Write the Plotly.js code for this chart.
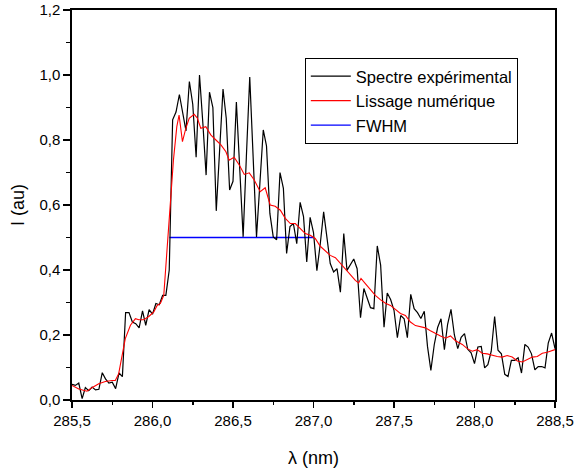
<!DOCTYPE html>
<html>
<head>
<meta charset="utf-8">
<script src="https://cdn.plot.ly/plotly-3.0.1.min.js"></script>
<style>html,body{margin:0;padding:0;background:#fff;}#plot{width:576px;height:468px;}</style>
</head>
<body>
<div id="plot"></div>
<script>
// Experimental spectrum (black)
const specX = [
285.500,285.521,285.542,285.563,285.583,285.604,285.625,285.646,285.667,285.688,285.708,285.729,285.750,285.771,285.792,285.813,285.833,285.854,285.875,285.896,285.917,285.938,285.958,285.979,
286.000,286.021,286.042,286.063,286.083,286.104,286.125,286.146,286.167,286.188,286.208,286.229,286.250,286.271,286.292,286.313,286.333,286.354,286.375,286.396,286.417,286.438,286.458,286.479,
286.500,286.521,286.542,286.563,286.583,286.604,286.625,286.646,286.667,286.688,286.708,286.729,286.750,286.771,286.792,286.813,286.833,286.854,286.875,286.896,286.917,286.938,286.958,286.979,
287.000,287.021,287.042,287.063,287.083,287.104,287.125,287.146,287.167,287.188,287.208,287.229,287.250,287.271,287.292,287.313,287.333,287.354,287.375,287.396,287.417,287.438,287.458,287.479,
287.500,287.521,287.542,287.563,287.583,287.604,287.625,287.646,287.667,287.688,287.708,287.729,287.750,287.771,287.792,287.813,287.833,287.854,287.875,287.896,287.917,287.938,287.958,287.979,
288.000,288.021,288.042,288.063,288.083,288.104,288.125,288.146,288.167,288.188,288.208,288.229,288.250,288.271,288.292,288.313,288.333,288.354,288.375,288.396,288.417,288.438,288.458,288.479,
288.500];
const specY = [
0.048,0.045,0.052,0.004,0.038,0.029,0.040,0.031,0.033,0.084,0.065,0.052,0.055,0.035,0.083,0.072,0.269,0.269,0.240,0.235,0.222,0.274,0.230,0.278,
0.264,0.297,0.293,0.322,0.322,0.400,0.862,0.886,0.940,0.885,0.828,0.980,0.910,0.747,1.000,0.850,0.692,0.947,0.900,0.582,0.770,0.957,0.867,0.646,
0.673,0.917,0.710,0.502,0.748,0.994,0.748,0.502,0.666,0.831,0.782,0.574,0.502,0.493,0.700,0.651,0.451,0.534,0.543,0.481,0.608,0.564,0.425,0.562,
0.515,0.398,0.480,0.579,0.502,0.420,0.394,0.404,0.332,0.512,0.399,0.418,0.434,0.404,0.253,0.343,0.312,0.284,0.281,0.474,0.415,0.224,0.329,0.309,
0.276,0.192,0.260,0.250,0.192,0.325,0.281,0.269,0.251,0.273,0.165,0.091,0.170,0.223,0.250,0.155,0.233,0.279,0.200,0.158,0.193,0.204,0.156,0.145,
0.112,0.163,0.165,0.099,0.109,0.150,0.257,0.153,0.142,0.079,0.072,0.122,0.122,0.130,0.083,0.171,0.163,0.142,0.093,0.103,0.103,0.099,0.175,0.206,
0.158];

// Numerical smoothing (red)
const smoothX = [
285.500,285.542,285.593,285.624,285.666,285.707,285.749,285.769,285.790,285.811,285.831,285.863,285.894,285.915,285.946,285.977,
286.008,286.029,286.049,286.070,286.089,286.109,286.130,286.151,286.165,286.186,286.207,286.228,286.259,286.279,286.300,286.331,
286.363,286.394,286.425,286.456,286.476,286.507,286.539,286.570,286.601,286.632,286.669,286.700,286.731,286.762,286.794,286.825,
286.856,286.887,286.918,286.949,286.980,287.011,287.042,287.073,287.104,287.136,287.167,287.198,287.229,287.260,287.280,287.295,
287.322,287.353,287.384,287.415,287.447,287.478,287.509,287.540,287.571,287.602,287.633,287.664,287.695,287.726,287.758,287.789,
287.820,287.851,287.882,287.924,287.955,287.986,288.017,288.048,288.079,288.110,288.141,288.172,288.203,288.234,288.266,288.297,
288.328,288.359,288.390,288.421,288.452,288.483,288.500];
const smoothY = [
0.045,0.034,0.027,0.038,0.050,0.057,0.060,0.060,0.081,0.132,0.189,0.230,0.250,0.247,0.247,0.257,
0.271,0.291,0.297,0.322,0.450,0.590,0.738,0.841,0.877,0.795,0.836,0.867,0.879,0.867,0.836,0.841,
0.815,0.800,0.785,0.764,0.738,0.747,0.723,0.694,0.699,0.677,0.641,0.653,0.600,0.596,0.584,0.559,
0.543,0.543,0.528,0.512,0.507,0.497,0.473,0.459,0.445,0.438,0.420,0.401,0.384,0.368,0.360,0.374,
0.358,0.340,0.322,0.309,0.298,0.291,0.278,0.266,0.260,0.240,0.229,0.226,0.222,0.213,0.204,0.197,
0.190,0.197,0.182,0.171,0.158,0.150,0.155,0.144,0.142,0.137,0.134,0.132,0.137,0.132,0.120,0.117,
0.124,0.132,0.134,0.144,0.147,0.153,0.155];

// FWHM (blue)
const fwhmX = [286.105, 287.000];
const fwhmY = [0.5, 0.5];

const names = ['Spectre expérimental', 'Lissage numérique', 'FWHM'];
const xTitle = 'λ (nm)';
const yTitle = 'I (au)';

const font = 'Liberation Sans, Arial, sans-serif';

const traces = [
  {x: fwhmX, y: fwhmY, mode: 'lines', name: names[2], legendrank: 3, line: {color: '#0000ff', width: 1.3}},
  {x: specX, y: specY, mode: 'lines', name: names[0], legendrank: 1, line: {color: '#000000', width: 1.2}},
  {x: smoothX, y: smoothY, mode: 'lines', name: names[1], legendrank: 2, line: {color: '#ff0000', width: 1.1}}
];

const axisCommon = {
  showgrid: false, zeroline: false,
  showline: true, linecolor: '#000', linewidth: 1.6, mirror: true,
  ticks: 'outside', tickcolor: '#000', tickwidth: 1.5,
  tickformat: '.1f',
  tickfont: {family: font, size: 15, color: '#000'}
};

const layout = {
  width: 576, height: 468,
  margin: {l: 72, r: 21, t: 10, b: 68},
  paper_bgcolor: '#fff', plot_bgcolor: '#fff',
  separators: ', ',
  font: {family: font, color: '#000'},
  showlegend: true,
  legend: {
    x: 0.482, y: 0.877, xanchor: 'left', yanchor: 'top',
    bordercolor: '#000', borderwidth: 1, bgcolor: '#fff',
    font: {family: font, size: 16.5, color: '#000'},
    itemwidth: 40,
    tracegroupgap: 0
  },
  xaxis: Object.assign({}, axisCommon, {
    range: [285.5, 288.5], dtick: 0.5, tick0: 285.5, ticklen: 6,
    minor: {dtick: 0.25, ticks: 'outside', ticklen: 3.5, tickcolor: '#000', tickwidth: 1.5},
    title: {text: xTitle, font: {family: font, size: 18, color: '#000'}, standoff: 26}
  }),
  yaxis: Object.assign({}, axisCommon, {
    range: [0, 1.2], dtick: 0.2, tick0: 0, ticklen: 7,
    minor: {dtick: 0.1, ticks: 'outside', ticklen: 4, tickcolor: '#000', tickwidth: 1.5},
    title: {text: yTitle, font: {family: font, size: 18, color: '#000'}, standoff: 10}
  })
};

Plotly.newPlot('plot', traces, layout, {staticPlot: true, displayModeBar: false});
</script>
</body>
</html>
